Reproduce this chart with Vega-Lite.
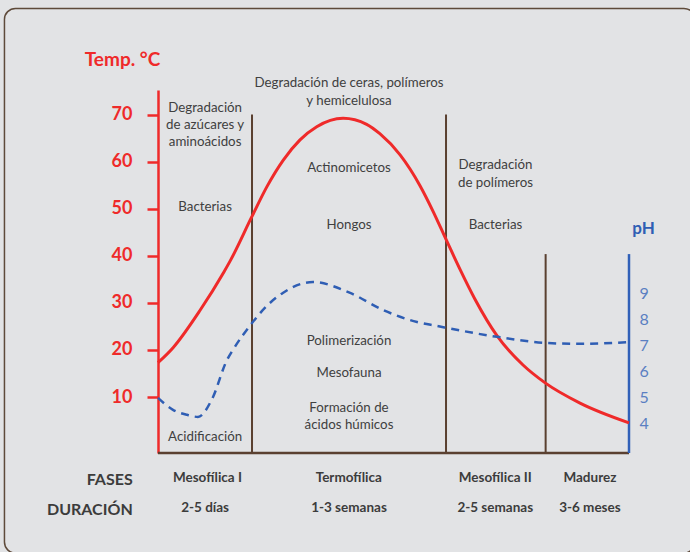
{
  "$schema": "https://vega.github.io/schema/vega-lite/v6.json",
  "width": 471,
  "height": 363,
  "autosize": "none",
  "padding": {"left": 158, "top": 90, "right": 61, "bottom": 99},
  "background": "#e2e3e5",
  "config": {"view": {"stroke": null}, "font": "Lato"},
  "datasets": {
    "temp": [
      {"t": 0, "temp": 17.3}, {"t": 3.2, "temp": 20.5}, {"t": 8.9, "temp": 28.4},
      {"t": 14.0, "temp": 36.6}, {"t": 15.3, "temp": 38.9}, {"t": 19.9, "temp": 48.3},
      {"t": 23.1, "temp": 54.7}, {"t": 26.6, "temp": 60.4}, {"t": 30.15, "temp": 64.7},
      {"t": 33.7, "temp": 67.5}, {"t": 39.3, "temp": 69.3}, {"t": 44.3, "temp": 68.0},
      {"t": 47.1, "temp": 66.0}, {"t": 51.4, "temp": 61.5}, {"t": 55.6, "temp": 55.0},
      {"t": 58.4, "temp": 49.5}, {"t": 61.3, "temp": 43.2}, {"t": 64.1, "temp": 37.2},
      {"t": 67.3, "temp": 30.8}, {"t": 72.0, "temp": 23.0}, {"t": 77.5, "temp": 16.8},
      {"t": 82.2, "temp": 13.0}, {"t": 89.6, "temp": 8.7}, {"t": 100, "temp": 4.5}
    ],
    "ph": [
      {"t": 0, "ph": 5.0}, {"t": 3.18, "ph": 4.54}, {"t": 6.16, "ph": 4.35},
      {"t": 8.49, "ph": 4.27}, {"t": 11.46, "ph": 4.95}, {"t": 14.65, "ph": 6.46},
      {"t": 15.92, "ph": 6.85}, {"t": 19.96, "ph": 7.88}, {"t": 23.1, "ph": 8.54},
      {"t": 26.5, "ph": 9.04}, {"t": 32.9, "ph": 9.46}, {"t": 40.8, "ph": 9.04},
      {"t": 47.8, "ph": 8.38}, {"t": 55.0, "ph": 7.92}, {"t": 59.2, "ph": 7.77},
      {"t": 72.0, "ph": 7.35}, {"t": 82.2, "ph": 7.12}, {"t": 89.6, "ph": 7.08},
      {"t": 100, "ph": 7.15}
    ],
    "dividers": [
      {"t": 19.96, "top": 70.1, "bottom": -1.91},
      {"t": 61.15, "top": 70.1, "bottom": -1.91},
      {"t": 82.3, "top": 40.4, "bottom": -1.91}
    ],
    "phline": [{"t": 100, "top": 40.4, "bottom": -1.91}],
    "baseline": [{"t": 0, "t2": 100, "v": -1.91}],
    "frame": [{"t": -32.6, "t2": 114, "top": 92.66, "bottom": -23.2}],
    "notes": [
      {"t": 10, "v": 71.5, "label": "Degradación"},
      {"t": 10, "v": 67.8, "label": "de azúcares y"},
      {"t": 10, "v": 64.3, "label": "aminoácidos"},
      {"t": 10, "v": 50.5, "label": "Bacterias"},
      {"t": 10, "v": 1.55, "label": "Acidificación"},
      {"t": 40.55, "v": 76.8, "label": "Degradación de ceras, polímeros"},
      {"t": 40.55, "v": 73.0, "label": "y hemicelulosa"},
      {"t": 40.55, "v": 58.7, "label": "Actinomicetos"},
      {"t": 40.55, "v": 46.5, "label": "Hongos"},
      {"t": 40.55, "v": 22.0, "label": "Polimerización"},
      {"t": 40.55, "v": 15.0, "label": "Mesofauna"},
      {"t": 40.55, "v": 7.6, "label": "Formación de"},
      {"t": 40.55, "v": 4.04, "label": "ácidos húmicos"},
      {"t": 71.65, "v": 59.3, "label": "Degradación"},
      {"t": 71.65, "v": 55.5, "label": "de polímeros"},
      {"t": 71.65, "v": 46.5, "label": "Bacterias"}
    ],
    "phases": [
      {"t": 10.5, "v": -7.23, "label": "Mesofílica I"},
      {"t": 10, "v": -13.6, "label": "2-5 días"},
      {"t": 40.5, "v": -7.23, "label": "Termofílica"},
      {"t": 40.55, "v": -13.6, "label": "1-3 semanas"},
      {"t": 71.6, "v": -7.23, "label": "Mesofílica II"},
      {"t": 71.6, "v": -13.6, "label": "2-5 semanas"},
      {"t": 91.7, "v": -7.23, "label": "Madurez"},
      {"t": 91.7, "v": -13.6, "label": "3-6 meses"}
    ],
    "rowlabels": [
      {"t": -5.37, "v": -7.66, "label": "FASES"},
      {"t": -5.37, "v": -14.0, "label": "DURACIÓN"}
    ]
  },
  "layer": [
    {
      "layer": [
        {
          "data": {"name": "frame"},
          "mark": {"type": "rect", "fillOpacity": 0, "stroke": "#5e4a3a", "strokeWidth": 1.5, "cornerRadius": 11},
          "encoding": {
            "x": {"field": "t", "type": "quantitative", "scale": {"domain": [0, 100], "nice": false, "zero": false}, "axis": null},
            "x2": {"field": "t2"},
            "y": {
              "field": "top", "type": "quantitative",
              "scale": {"domain": [-1.91, 75.3], "nice": false, "zero": false},
              "axis": {
                "orient": "left", "values": [10, 20, 30, 40, 50, 60, 70], "grid": false,
                "domainColor": "#ef2a2a", "domainWidth": 2.5,
                "tickColor": "#ef2a2a", "tickWidth": 2.5, "tickSize": 11,
                "labelColor": "#ef2a2a", "labelFont": "Lato", "labelFontSize": 18, "labelFontWeight": "bold", "labelPadding": 15,
                "title": "Temp. °C", "titleColor": "#ef2a2a", "titleFont": "Lato", "titleFontSize": 19, "titleFontWeight": "bold",
                "titleAngle": 0, "titleAlign": "center", "titleBaseline": "alphabetic", "titleX": -36, "titleY": -25
              }
            },
            "y2": {"field": "bottom"}
          }
        },
        {
          "data": {"name": "dividers"},
          "mark": {"type": "rule", "color": "#5a4030", "strokeWidth": 2},
          "encoding": {
            "x": {"field": "t", "type": "quantitative", "axis": null},
            "y": {"field": "top", "type": "quantitative"},
            "y2": {"field": "bottom"}
          }
        },
        {
          "data": {"name": "baseline"},
          "mark": {"type": "rule", "color": "#5a4030", "strokeWidth": 2.5},
          "encoding": {
            "x": {"field": "t", "type": "quantitative", "axis": null},
            "x2": {"field": "t2"},
            "y": {"field": "v", "type": "quantitative"}
          }
        },
        {
          "data": {"name": "phline"},
          "mark": {"type": "rule", "color": "#3060b8", "strokeWidth": 2.5},
          "encoding": {
            "x": {"field": "t", "type": "quantitative", "axis": null},
            "y": {"field": "top", "type": "quantitative"},
            "y2": {"field": "bottom"}
          }
        },
        {
          "data": {"name": "notes"},
          "mark": {"type": "text", "font": "Lato", "fontSize": 13.3, "color": "#404040", "align": "center", "baseline": "middle"},
          "encoding": {
            "x": {"field": "t", "type": "quantitative", "axis": null},
            "y": {"field": "v", "type": "quantitative"},
            "text": {"field": "label"}
          }
        },
        {
          "data": {"name": "phases"},
          "mark": {"type": "text", "font": "Lato", "fontSize": 13.5, "fontWeight": "bold", "color": "#3c3c3c", "align": "center", "baseline": "middle"},
          "encoding": {
            "x": {"field": "t", "type": "quantitative", "axis": null},
            "y": {"field": "v", "type": "quantitative"},
            "text": {"field": "label"}
          }
        },
        {
          "data": {"name": "rowlabels"},
          "mark": {"type": "text", "font": "Lato", "fontSize": 16, "fontWeight": "bold", "color": "#3c3c3c", "align": "right", "baseline": "middle"},
          "encoding": {
            "x": {"field": "t", "type": "quantitative", "axis": null},
            "y": {"field": "v", "type": "quantitative"},
            "text": {"field": "label"}
          }
        },
        {
          "data": {"name": "temp"},
          "mark": {"type": "line", "color": "#ef2a2a", "strokeWidth": 3, "interpolate": "monotone"},
          "encoding": {
            "x": {"field": "t", "type": "quantitative", "axis": null},
            "y": {"field": "temp", "type": "quantitative"}
          }
        }
      ]
    },
    {
      "data": {"name": "ph"},
      "mark": {"type": "line", "color": "#2f5eb4", "strokeWidth": 2.5, "strokeDash": [8, 6], "interpolate": "monotone"},
      "encoding": {
        "x": {"field": "t", "type": "quantitative", "scale": {"domain": [0, 100], "nice": false, "zero": false}, "axis": null},
        "y": {
          "field": "ph", "type": "quantitative",
          "scale": {"domain": [2.88, 16.85], "nice": false, "zero": false},
          "axis": {
            "orient": "right", "values": [4, 5, 6, 7, 8, 9], "grid": false, "domain": false, "ticks": false, "tickSize": 0,
            "labelColor": "#5a7fc2", "labelFont": "Lato", "labelFontSize": 16, "labelPadding": 10,
            "title": "pH", "titleColor": "#2f5eb4", "titleFont": "Lato", "titleFontSize": 17, "titleFontWeight": "bold",
            "titleAngle": 0, "titleAlign": "center", "titleBaseline": "alphabetic", "titleX": 14, "titleY": 143
          }
        }
      }
    }
  ],
  "resolve": {"scale": {"y": "independent"}}
}
